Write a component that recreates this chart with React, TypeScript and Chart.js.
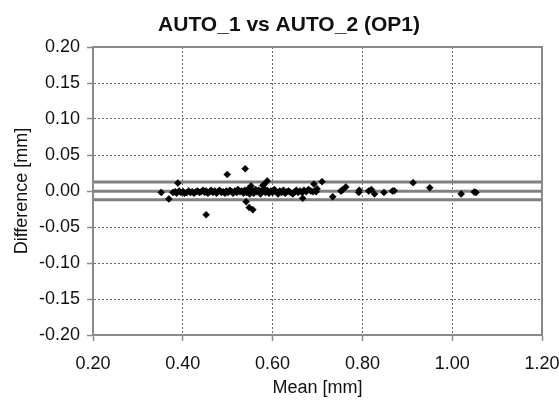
import React, { useEffect, useRef } from "react";
import { Chart, registerables } from "chart.js";

Chart.register(...registerables);

const chartTitle = "AUTO_1 vs AUTO_2 (OP1)";
const xAxisTitle = "Mean [mm]";
const yAxisTitle = "Difference [mm]";

const xMin = 0.2;
const xMax = 1.2;
const xStep = 0.2;
const yMin = -0.2;
const yMax = 0.2;
const yStep = 0.05;

// Bland-Altman reference lines
const meanDifference = -0.0003;
const upperLimit = 0.0125;
const lowerLimit = -0.012;

// Mean of the two measurements (x) and their difference (y)
const meanValues = [
  0.352, 0.369, 0.389, 0.452, 0.499, 0.539, 0.541, 0.548, 0.556, 0.578, 0.588, 0.581,
  0.667, 0.692, 0.710, 0.734, 0.752, 0.755, 0.763, 0.792, 0.793, 0.814, 0.820, 0.827,
  0.848, 0.867, 0.871, 0.913, 0.950, 1.020, 1.049, 1.053,
  0.378, 0.383, 0.386, 0.392, 0.396, 0.401, 0.404, 0.409, 0.413, 0.417, 0.421, 0.425,
  0.429, 0.433, 0.437, 0.441, 0.445, 0.449, 0.452, 0.456, 0.460, 0.463, 0.467, 0.471,
  0.475, 0.478, 0.482, 0.486, 0.490, 0.494, 0.497, 0.501, 0.505, 0.509, 0.512, 0.516,
  0.520, 0.523, 0.527, 0.531, 0.535, 0.538, 0.542, 0.546, 0.549, 0.552, 0.555, 0.558,
  0.562, 0.565, 0.569, 0.573, 0.576, 0.580, 0.584, 0.588, 0.592, 0.596, 0.600, 0.604,
  0.608, 0.612, 0.616, 0.620, 0.624, 0.628, 0.632, 0.636, 0.640, 0.645, 0.649, 0.653,
  0.657, 0.661, 0.666, 0.670, 0.675, 0.680, 0.685, 0.690, 0.697, 0.699,
];
const differenceValues = [
  -0.002, -0.011, 0.011, -0.033, 0.023, 0.031, -0.015, -0.023, -0.026, 0.0075, 0.014, 0.009,
  -0.010, 0.0097, 0.013, -0.008, 0.0, 0.001, 0.0056, -0.002, 0.001, 0.0, 0.002, -0.004,
  -0.002, 0.0, 0.0004, 0.0116, 0.0046, -0.004, -0.0014, -0.002,
  -0.002, -0.001, -0.003, 0.0, -0.002, -0.001, -0.003, -0.002, 0.0, -0.002, -0.001, -0.003,
  -0.001, 0.0, -0.002, -0.001, 0.001, -0.002, 0.0, -0.003, -0.001, 0.001, -0.002, 0.0,
  -0.003, -0.001, 0.001, -0.002, -0.001, -0.003, 0.0, -0.002, 0.001, -0.001, -0.003, 0.0,
  -0.002, 0.002, -0.001, 0.0, -0.003, 0.001, -0.002, 0.003, -0.004, 0.007, 0.0, -0.003,
  0.002, -0.001, 0.001, -0.004, 0.0, 0.003, -0.002, 0.001, -0.003, 0.0, -0.002, 0.002,
  -0.001, -0.004, 0.0, -0.002, 0.001, -0.003, -0.001, 0.0, -0.002, -0.004, -0.001, 0.001,
  -0.002, 0.0, -0.002, 0.001, -0.001, 0.002, 0.0, -0.001, -0.001, 0.003,
];

const FONT = "'Liberation Sans', Arial, sans-serif";
const TEXT = "#111111";
const FRAME = "#8a8a8a";

const framePlugin = {
  id: "frameAndTitle",
  afterDraw(chart: any) {
    const { ctx, chartArea } = chart;
    ctx.save();
    ctx.strokeStyle = FRAME;
    ctx.lineWidth = 2;
    ctx.strokeRect(chartArea.left, chartArea.top, chartArea.right - chartArea.left, chartArea.bottom - chartArea.top);
    ctx.fillStyle = TEXT;
    ctx.font = `bold 21px ${FONT}`;
    ctx.textAlign = "center";
    ctx.textBaseline = "alphabetic";
    ctx.fillText(chartTitle, 289, 31);
    ctx.restore();
  },
};

function hLine(value: number) {
  return {
    type: "line" as const,
    data: [
      { x: xMin, y: value },
      { x: xMax, y: value },
    ],
    showLine: true,
    borderColor: "#808080",
    borderWidth: 3,
    pointRadius: 0,
    fill: false,
    order: 2,
  };
}

export default function App() {
  const ref = useRef<HTMLCanvasElement | null>(null);

  useEffect(() => {
    if (!ref.current) return;
    const points = meanValues.map((x, i) => ({ x, y: differenceValues[i] }));
    const chart = new Chart(ref.current, {
      type: "scatter",
      data: {
        datasets: [
          {
            data: points,
            pointStyle: "rectRot",
            pointRadius: 3.5,
            pointBackgroundColor: "#000000",
            pointBorderColor: "#000000",
            pointBorderWidth: 0.5,
            order: 0,
          } as any,
          hLine(upperLimit) as any,
          hLine(meanDifference) as any,
          hLine(lowerLimit) as any,
        ],
      },
      options: {
        animation: false,
        responsive: true,
        maintainAspectRatio: false,
        layout: { padding: { top: 47, right: 17, left: 0, bottom: 0 } },
        plugins: {
          legend: { display: false },
          tooltip: { enabled: false },
          title: { display: false },
        },
        scales: {
          x: {
            type: "linear",
            min: xMin,
            max: xMax,
            ticks: {
              stepSize: xStep,
              color: TEXT,
              font: { family: FONT, size: 18 },
              padding: 12,
              maxRotation: 0,
              callback: (v: any) => Number(v).toFixed(2),
            },
            grid: {
              color: "#666666",
              lineWidth: 1,
              tickLength: 6,
              tickColor: FRAME,
              tickWidth: 1.5,
              tickBorderDash: [],
            },
            border: { display: true, color: FRAME, width: 2, dash: [2, 2] },
            title: {
              display: true,
              text: xAxisTitle,
              color: TEXT,
              font: { family: FONT, size: 18 },
              padding: { top: 0, bottom: 1 },
            },
            afterFit: (scale: any) => {
              scale.height = 65;
              scale.paddingLeft = 0;
              scale.paddingRight = 0;
            },
          },
          y: {
            type: "linear",
            min: yMin,
            max: yMax,
            ticks: {
              stepSize: yStep,
              color: TEXT,
              font: { family: FONT, size: 18 },
              padding: 7,
              callback: (v: any) => Number(v).toFixed(2),
            },
            grid: {
              color: "#666666",
              lineWidth: 1,
              tickLength: 6,
              tickColor: FRAME,
              tickWidth: 1.5,
              tickBorderDash: [],
            },
            border: { display: true, color: FRAME, width: 2, dash: [2, 2] },
            title: {
              display: true,
              text: yAxisTitle,
              color: TEXT,
              font: { family: FONT, size: 18 },
              padding: { top: 11, bottom: 0 },
            },
            afterFit: (scale: any) => {
              scale.width = 93;
              scale.paddingTop = 0;
              scale.paddingBottom = 0;
            },
          },
        },
      },
      plugins: [framePlugin],
    });
    return () => chart.destroy();
  }, []);

  return (
    <div style={{ position: "absolute", left: 0, top: 0, width: 559, height: 400, background: "#ffffff" }}>
      <canvas ref={ref} />
    </div>
  );
}
